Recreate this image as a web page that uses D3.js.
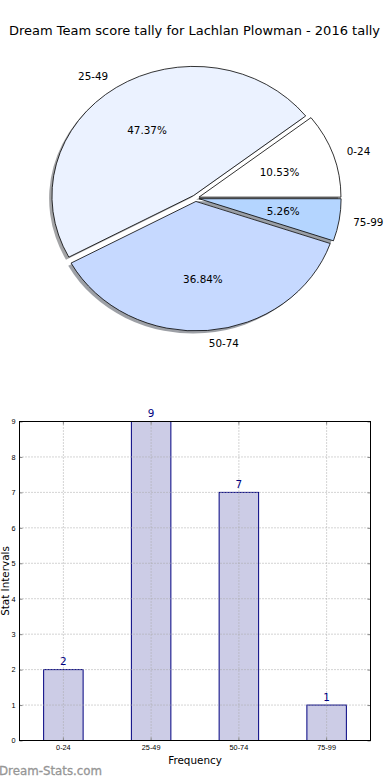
<!DOCTYPE html>
<html>
<head>
<meta charset="utf-8">
<script src="https://cdn.jsdelivr.net/npm/d3@7"></script>
<style>
	body { margin: 0; background: #fff; }
	svg { display: block; font-family: "DejaVu Sans", sans-serif; }
</style>
</head>
<body>
<div id="chart"></div>
<script>
// data
const categories = ["0-24", "25-49", "50-74", "75-99"];
const counts = [2, 9, 7, 1];
const sliceColors = ["#ffffff", "#ebf2ff", "#c6d9ff", "#b4d5ff"];
const explode = [0.025, 0.025, 0.025, 0.025];
const yTicks = [0, 1, 2, 3, 4, 5, 6, 7, 8, 9];
const title = "Dream Team score tally for Lachlan Plowman - 2016 tally";

const W = 390, H = 780;
const svg = d3.select("#chart").append("svg")
	.attr("width", W)
	.attr("height", H);

svg.append("text")
	.attr("x", W / 2 - 0.5)
	.attr("y", 34.5)
	.attr("text-anchor", "middle")
	.style("font-size", "13px")
	.text(title);

// ---- pie (stretched, like an unequal-aspect matplotlib pie) ----
const pieCx = 195.6, pieCy = 198.2, rx = 142, ry = 129.5;
const total = d3.sum(counts);
const slices = d3.pie().sort(null)
	.startAngle(Math.PI / 2)
	.endAngle(Math.PI / 2 - 2 * Math.PI)(counts);
const unitArc = d3.arc().innerRadius(0).outerRadius(1);

const pieG = svg.append("g");

function sliceOffset(d, i) {
	const a = (d.startAngle + d.endAngle) / 2;
	return {
		a: a,
		x: pieCx + explode[i] * rx * Math.sin(a),
		y: pieCy - explode[i] * ry * Math.cos(a)
	};
}

// shadows first, all under the wedges
slices.forEach((d, i) => {
	const o = sliceOffset(d, i);
	const c = d3.rgb(sliceColors[i]);
	pieG.append("path")
		.attr("d", unitArc(d))
		.attr("transform", `translate(${o.x - 0.02 * rx},${o.y + 0.02 * ry}) scale(${rx},${ry})`)
		.style("fill", d3.rgb(c.r * 0.3, c.g * 0.3, c.b * 0.3))
		.style("opacity", 0.5);
});

slices.forEach((d, i) => {
	const o = sliceOffset(d, i);
	pieG.append("path")
		.attr("d", unitArc(d))
		.attr("transform", `translate(${o.x},${o.y}) scale(${rx},${ry})`)
		.attr("vector-effect", "non-scaling-stroke")
		.style("fill", sliceColors[i])
		.style("stroke", "#000")
		.style("stroke-width", 0.8)
		.style("stroke-linejoin", "round");
});

slices.forEach((d, i) => {
	const o = sliceOffset(d, i);
	const sx = Math.sin(o.a), sy = -Math.cos(o.a);
	pieG.append("text")
		.attr("x", o.x + 1.1 * rx * sx)
		.attr("y", o.y + 1.1 * ry * sy)
		.attr("dy", "0.35em")
		.attr("text-anchor", sx > 0 ? "start" : "end")
		.style("font-size", "10.4px")
		.text(categories[i]);
	pieG.append("text")
		.attr("x", o.x + 0.6 * rx * sx)
		.attr("y", o.y + 0.6 * ry * sy)
		.attr("dy", "0.35em")
		.attr("text-anchor", "middle")
		.style("font-size", "10.4px")
		.text((counts[i] / total * 100).toFixed(2) + "%");
});

// ---- bar chart ----
const plot = { left: 19.5, right: 370.5, top: 421.5, bottom: 740.5 };
const x = d3.scaleBand()
	.domain(categories)
	.range([plot.left, plot.right])
	.paddingInner(0.55)
	.paddingOuter(0.275);
const y = d3.scaleLinear().domain([0, 9]).range([plot.bottom, plot.top]);

const barG = svg.append("g");

barG.selectAll("rect.bar")
	.data(counts)
	.join("rect")
	.attr("class", "bar")
	.attr("x", (d, i) => x(categories[i]))
	.attr("y", d => y(d))
	.attr("width", x.bandwidth())
	.attr("height", d => y(0) - y(d))
	.style("fill", "#cccce6")
	.style("stroke", "#000080")
	.style("stroke-width", 1);

// grid on top of the bars
const grid = barG.append("g")
	.style("stroke", "#a8a8a8")
	.style("stroke-width", 1)
	.style("stroke-dasharray", "1,2");
grid.selectAll("line.gy")
	.data(yTicks.slice(1, -1))
	.join("line")
	.attr("x1", plot.left).attr("x2", plot.right)
	.attr("y1", d => y(d)).attr("y2", d => y(d));
grid.selectAll("line.gx")
	.data(categories)
	.join("line")
	.attr("x1", d => x(d) + x.bandwidth() / 2)
	.attr("x2", d => x(d) + x.bandwidth() / 2)
	.attr("y1", plot.top).attr("y2", plot.bottom);

// axes with inward ticks
const tickColor = "#888";
function styleAxis(g) {
	g.select(".domain").remove();
	g.selectAll(".tick line").style("stroke", tickColor);
	g.selectAll(".tick text").style("font-size", "7.3px").style("fill", "#000");
}
barG.append("g")
	.attr("transform", `translate(${plot.left},0)`)
	.call(d3.axisLeft(y).tickValues(yTicks).tickSize(-3).tickPadding(4))
	.call(styleAxis);
barG.append("g")
	.attr("transform", `translate(${plot.right},0)`)
	.call(d3.axisRight(y).tickValues(yTicks).tickSize(-3).tickFormat(""))
	.call(styleAxis);
barG.append("g")
	.attr("transform", `translate(0,${plot.bottom})`)
	.call(d3.axisBottom(x).tickSize(-3).tickPadding(4))
	.call(styleAxis);
barG.append("g")
	.attr("transform", `translate(0,${plot.top})`)
	.call(d3.axisTop(x).tickSize(-3).tickFormat(""))
	.call(styleAxis);

barG.append("rect")
	.attr("x", plot.left).attr("y", plot.top)
	.attr("width", plot.right - plot.left)
	.attr("height", plot.bottom - plot.top)
	.style("fill", "none")
	.style("stroke", "#000")
	.style("stroke-width", 1);

// value labels
barG.selectAll("text.val")
	.data(counts)
	.join("text")
	.attr("class", "val")
	.attr("x", (d, i) => x(categories[i]) + x.bandwidth() / 2)
	.attr("y", d => y(d) - 4.5)
	.attr("text-anchor", "middle")
	.style("font-size", "10.4px")
	.style("fill", "#000080")
	.text(d => d);

svg.append("text")
	.attr("x", (plot.left + plot.right) / 2)
	.attr("y", 764)
	.attr("text-anchor", "middle")
	.style("font-size", "10.4px")
	.text("Frequency");

svg.append("text")
	.attr("transform", `translate(8.5,${(plot.top + plot.bottom) / 2}) rotate(-90)`)
	.attr("text-anchor", "middle")
	.style("font-size", "10.4px")
	.text("Stat Intervals");

svg.append("text")
	.attr("x", -1)
	.attr("y", 774.5)
	.style("font-size", "11.8px")
	.style("fill", "#969696")
	.style("stroke", "#969696")
	.style("stroke-width", 0.3)
	.text("Dream-Stats.com");
</script>
</body>
</html>
